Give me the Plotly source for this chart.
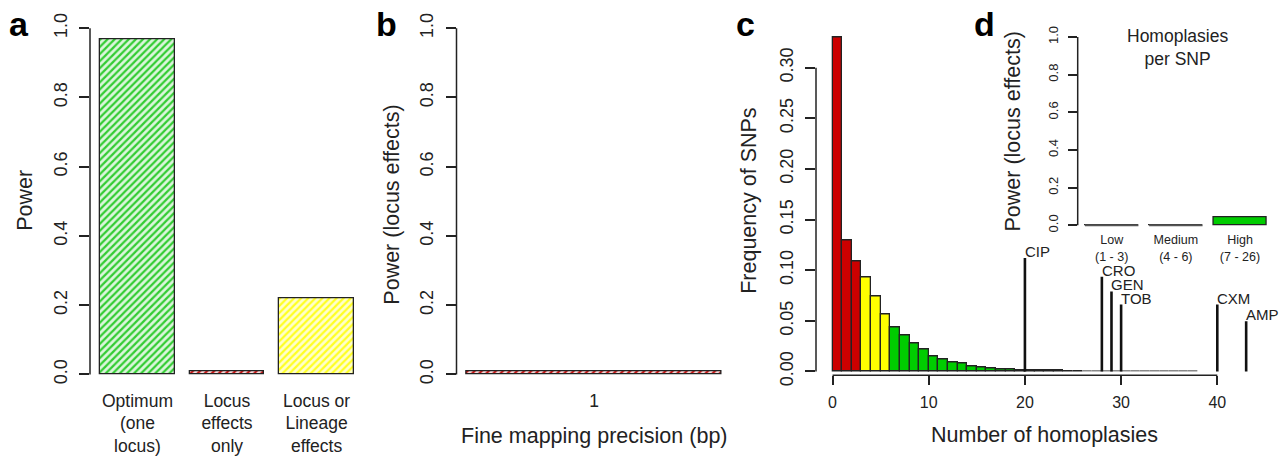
import plotly.graph_objects as go

W, H = 1287, 461
FONT = "Liberation Sans, Arial, Helvetica, sans-serif"
INK = "#222222"

# ---------------- data ----------------
# panel a
a_categories = ["Optimum<br>(one<br>locus)", "Locus<br>effects<br>only", "Locus or<br>Lineage<br>effects"]
a_power = [0.967, 0.010, 0.221]
a_fg = ["#33cc33", "#cc1111", "#ffff22"]
a_bg = ["#dcf6dc", "#f6e0e0", "#ffffcc"]

# panel b
b_categories = ["1"]
b_power = [0.010]

# panel c (histogram of homoplasies per SNP, bins of width 1 starting at 0)
c_freq = [0.330, 0.129, 0.109, 0.093, 0.074, 0.0565, 0.0437, 0.0354, 0.0278, 0.0217,
          0.0153, 0.0118, 0.0089, 0.0080, 0.0054, 0.0045, 0.0032, 0.0022, 0.0016, 0.0012,
          0.0010, 0.0008, 0.0007, 0.0006, 0.0005, 0.0004, 0.0003, 0.0003, 0.0003, 0.0003,
          0.0003, 0.0003, 0.0003, 0.0003, 0.0003, 0.0003, 0.0003, 0.0003]
tier_edges = [3, 6, 26]          # bins < 3 low, < 6 medium, < 26 high, rest tail
tier_colors = ["#cc0000", "#ffff00", "#00cc00", "#bbbbbb"]
drugs = ["CIP", "CRO", "GEN", "TOB", "CXM", "AMP"]
drug_homoplasies = [20, 28, 29, 30, 40, 43]
drug_heights = [0.112, 0.0935, 0.079, 0.066, 0.066, 0.0495]
c_xticks = [0, 10, 20, 30, 40]
c_yticks = [0.00, 0.05, 0.10, 0.15, 0.20, 0.25, 0.30]

# panel d
d_categories = ["Low<br>(1 - 3)", "Medium<br>(4 - 6)", "High<br>(7 - 26)"]
d_power = [0.0, 0.0, 0.04]

power_ticks = [0.0, 0.2, 0.4, 0.6, 0.8, 1.0]

# ---------------- helpers ----------------
def px_x(p):
    return p / W

def px_y(p):
    return 1 - p / H

def bar_centers(n):
    # R barplot geometry: width 1, space 0.2
    return [0.2 + i * 1.2 + 0.5 for i in range(n)]

fig = go.Figure()

# ---------------- panel a ----------------
ac = bar_centers(len(a_power))
for c, v, fg, bg in zip(ac, a_power, a_fg, a_bg):
    fig.add_trace(go.Bar(
        x=[c], y=[v], width=1.0, xaxis="x", yaxis="y",
        marker=dict(color=bg, line=dict(color=INK, width=1.3),
                    pattern=dict(shape="/", fgcolor=fg, bgcolor=bg, fgopacity=1,
                                 size=5, solidity=0.45, fillmode="replace")),
        showlegend=False, hoverinfo="skip"))

# ---------------- panel b ----------------
bc = bar_centers(len(b_power))
fig.add_trace(go.Bar(
    x=bc, y=b_power, width=1.0, xaxis="x2", yaxis="y2",
    marker=dict(color=a_bg[1], line=dict(color=INK, width=1.3),
                pattern=dict(shape="/", fgcolor=a_fg[1], bgcolor=a_bg[1], fgopacity=1,
                             size=5, solidity=0.45, fillmode="replace")),
    showlegend=False, hoverinfo="skip"))

# ---------------- panel c ----------------
def tier_color(i):
    for k, e in enumerate(tier_edges):
        if i < e:
            return tier_colors[k]
    return tier_colors[-1]

c_x = [i + 0.5 for i in range(len(c_freq))]
c_cols = [tier_color(i) for i in range(len(c_freq))]
c_line = [INK if i < tier_edges[-1] else "#888888" for i in range(len(c_freq))]
fig.add_trace(go.Bar(
    x=c_x, y=c_freq, width=1.0, xaxis="x3", yaxis="y3",
    marker=dict(color=c_cols, line=dict(color=c_line, width=1.3)),
    showlegend=False, hoverinfo="skip"))

lx, ly = [], []
for xv, hv in zip(drug_homoplasies, drug_heights):
    lx += [xv, xv, None]
    ly += [0, hv, None]
fig.add_trace(go.Scatter(x=lx, y=ly, mode="lines", xaxis="x3", yaxis="y3",
                         line=dict(color="#111111", width=2.6),
                         showlegend=False, hoverinfo="skip"))

# ---------------- panel d ----------------
dc = bar_centers(len(d_power))
fig.add_trace(go.Bar(
    x=dc, y=d_power, width=1.0, xaxis="x4", yaxis="y4",
    marker=dict(color="#00cc00", line=dict(color=INK, width=1.3)),
    showlegend=False, hoverinfo="skip"))
zx, zy = [], []
for c, v in zip(dc, d_power):
    if v == 0:
        zx += [c - 0.5, c + 0.5, None]
        zy += [0, 0, None]
fig.add_trace(go.Scatter(x=zx, y=zy, mode="lines", xaxis="x4", yaxis="y4",
                         line=dict(color="#555555", width=2),
                         showlegend=False, hoverinfo="skip"))

# ---------------- axes ----------------
base = dict(showgrid=False, zeroline=False, showline=False, fixedrange=True)
yfont = dict(family=FONT, size=18, color=INK)

layout = dict(
    width=W, height=H, margin=dict(l=0, r=0, t=0, b=0),
    paper_bgcolor="white", plot_bgcolor="rgba(0,0,0,0)",
    font=dict(family=FONT, color=INK),
    bargap=0,
    # a
    xaxis=dict(base, domain=[px_x(90), px_x(364)], range=[0.064, 3.736], anchor="y",
               tickvals=ac, ticktext=a_categories, ticks="", tickfont=dict(family=FONT, size=17.5, color=INK)),
    yaxis=dict(base, domain=[px_y(397.3), px_y(11.7)], range=[-0.04, 1.04], anchor="x",
               tickvals=power_ticks, tickformat=".1f", ticks="outside", ticklen=10, tickwidth=1.5,
               tickcolor=INK, tickangle=-90, tickfont=yfont, ticklabelstandoff=5),
    # b
    xaxis2=dict(base, domain=[px_x(456.5), px_x(731.9)], range=[0.16, 1.24], anchor="y2",
                tickvals=bc, ticktext=b_categories, ticks="", tickfont=dict(family=FONT, size=17.5, color=INK)),
    yaxis2=dict(base, domain=[px_y(397.3), px_y(11.7)], range=[-0.04, 1.04], anchor="x2",
                tickvals=power_ticks, tickformat=".1f", ticks="outside", ticklen=10, tickwidth=1.5,
                tickcolor=INK, tickangle=-90, tickfont=yfont, ticklabelstandoff=5),
    # c
    xaxis3=dict(base, domain=[px_x(816), px_x(1262.7)], range=[-1.72, 44.72], anchor="y3",
                tickvals=c_xticks, ticks="outside", ticklen=9, tickwidth=1.5, tickcolor=INK,
                tickfont=dict(family=FONT, size=16, color=INK), ticklabelstandoff=3),
    yaxis3=dict(base, domain=[px_y(384), px_y(20)], range=[-0.00383, 0.3447], anchor="x3",
                tickvals=c_yticks, tickformat=".2f", ticks="outside", ticklen=10, tickwidth=1.5,
                tickcolor=INK, tickangle=-90, tickfont=yfont, ticklabelstandoff=5),
    # d
    xaxis4=dict(base, domain=[px_x(1077.7), px_x(1274)], range=[0.064, 3.736], anchor="y4",
                tickvals=dc, ticktext=d_categories, ticks="", tickfont=dict(family=FONT, size=12.5, color=INK),
                ticklabelstandoff=-2),
    yaxis4=dict(base, domain=[px_y(237.1), px_y(27.2)], range=[-0.04, 1.04], anchor="x4",
                tickvals=power_ticks, tickformat=".1f", ticks="outside", ticklen=9, tickwidth=1.5,
                tickcolor=INK, tickangle=-90, tickfont=dict(family=FONT, size=13, color=INK),
                ticklabelstandoff=5),
)
fig.update_layout(**layout)

# R-style axis lines (span first to last tick only)
shapes = []
for xa, ya, ticks in [("x", "y", power_ticks), ("x2", "y2", power_ticks), ("x3", "y3", c_yticks), ("x4", "y4", power_ticks)]:
    shapes.append(dict(type="line", xref=f"{xa} domain", yref=ya, x0=0, x1=0, y0=ticks[0], y1=ticks[-1],
                       line=dict(color=INK, width=1.5)))
shapes.append(dict(type="line", xref="x3", yref="y3 domain", x0=c_xticks[0], x1=c_xticks[-1], y0=0, y1=0,
                   line=dict(color=INK, width=1.5)))
fig.update_layout(shapes=shapes)

# ---------------- text ----------------
ann = []
def txt(text, x, y, size, angle=0, bold=False, xanchor="center", yanchor="middle"):
    ann.append(dict(text=f"<b>{text}</b>" if bold else text, x=px_x(x), y=px_y(y), xref="paper", yref="paper",
                    showarrow=False, textangle=angle, xanchor=xanchor, yanchor=yanchor,
                    font=dict(family=FONT, size=size, color=INK if not bold else "black")))

# panel letters
txt("a", 19, 22, 34, bold=True)
txt("b", 386, 22, 34, bold=True)
txt("c", 746, 22, 34, bold=True)
txt("d", 984, 22, 34, bold=True)

# axis titles
txt("Power", 25, 204, 21.5, angle=-90)
txt("Power (locus effects)", 392.5, 208.5, 21.5, angle=-90)
txt("Frequency of SNPs", 749, 204, 21.5, angle=-90)
txt("Power (locus effects)", 1013, 132.5, 21.5, angle=-90)
txt("Fine mapping precision (bp)", 594, 447, 21.5)
txt("Number of homoplasies", 1044, 446, 21.5)
txt("Homoplasies<br>per SNP", 1177, 46, 17.5)

# drug labels at top of their lines
for name, xv, hv in zip(drugs, drug_homoplasies, drug_heights):
    ann.append(dict(text=name, x=xv, y=hv, xref="x3", yref="y3", showarrow=False,
                    xanchor="left", yanchor="bottom", xshift=-2, yshift=-4,
                    font=dict(family=FONT, size=15, color=INK)))

fig.update_layout(annotations=ann)
fig.write_html("out.html")
